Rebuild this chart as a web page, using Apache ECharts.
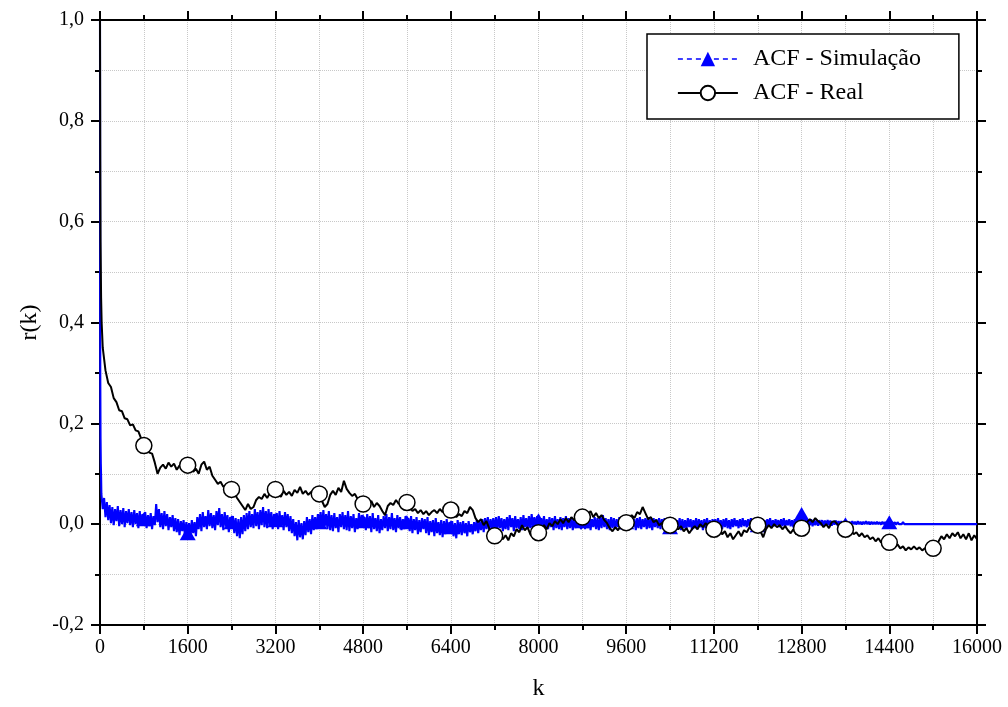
<!DOCTYPE html>
<html>
<head>
<meta charset="utf-8">
<title>ACF</title>
<script src="https://cdn.jsdelivr.net/npm/echarts@6/dist/echarts.min.js"></script>
<style>
  html, body { margin: 0; padding: 0; background: #fff; }
  #chart { width: 1008px; height: 707px; }
</style>
</head>
<body>
<div id="chart"></div>
<script>
const lagMax = 16000;

// Measured trace: small lags, then every 50
const realHeadLags = [0, 5, 10, 20, 30];
const realStep = 50;
// Simulated trace: small lags, then every 25
const simHeadLags = [0, 5, 10, 15, 20];
const simStep = 25;

const stepLags = (head, step) =>
  head.concat(Array.from({ length: lagMax / step }, (_, i) => step * (i + 1)));
const realLags = stepLags(realHeadLags, realStep);
const simLags = stepLags(simHeadLags, simStep);

// r(k) in thousandths, ACF of the measured trace
const realHead = [1000, 720, 560, 450, 400];
const realMilli = [
  // k 50 .. 1600
  350, 305, 280, 272, 250, 242, 226, 224, 210, 208, 196, 198, 186, 184, 170, 156,
  150, 142, 140, 122, 100, 112, 118, 110, 122, 114, 120, 108, 116, 112, 120, 117,
  // k 1650 .. 3200
  112, 104, 110, 100, 118, 124, 108, 114, 96, 88, 80, 84, 74, 78, 72, 69,
  62, 52, 44, 36, 28, 40, 30, 34, 48, 54, 50, 60, 52, 62, 56, 69,
  // k 3250 .. 4800
  62, 54, 66, 58, 64, 56, 68, 62, 74, 60, 66, 58, 64, 52, 58, 60,
  46, 34, 40, 58, 66, 58, 72, 64, 86, 70, 62, 56, 60, 50, 54, 40,
  // k 4850 .. 6400
  46, 38, 46, 34, 42, 36, 26, 18, 36, 42, 38, 48, 40, 44, 38, 43,
  34, 26, 30, 22, 28, 20, 26, 18, 24, 28, 22, 30, 24, 32, 26, 28,
  // k 6450 .. 8000
  20, 14, 20, 16, 26, 22, 34, 28, 12, 4, 10, -2, 6, -8, -18, -23,
  -26, -20, -30, -22, -32, -18, -24, -10, -16, -2, -12, -6, -20, -26, -14, -17,
  // k 8050 .. 9600
  -8, -2, -10, 2, -4, 6, 0, 10, 2, 12, 4, 14, 8, 16, 10, 14,
  8, 18, 26, 14, 22, 12, 18, 8, 2, -8, -14, -6, -12, -2, 6, 3,
  // k 9650 .. 11200
  8, 18, 12, 24, 20, 34, 22, 10, 14, 4, 8, -2, 2, -4, 0, -2,
  4, -4, -10, -4, -14, -8, -18, -10, -4, -10, 0, -6, 2, -4, -8, -10,
  // k 11250 .. 12800
  -14, -8, -20, -14, -26, -18, -30, -22, -14, -24, -12, -16, -6, -10, 0, -2,
  -14, -26, -10, -2, -8, 0, -6, -2, -10, -4, -12, -18, -10, -20, -12, -8,
  // k 12850 .. 14400
  -2, 4, 10, 4, 12, 6, 2, -6, 0, -8, 4, 6, 0, -6, -4, -10,
  -14, -12, -20, -16, -24, -18, -26, -22, -30, -26, -34, -28, -36, -30, -38, -36,
  // k 14450 .. 16000
  -40, -46, -40, -48, -44, -52, -46, -50, -44, -50, -46, -52, -48, -50, -44, -48,
  -42, -34, -24, -30, -20, -28, -18, -24, -16, -28, -20, -30, -18, -32, -22, -30
];

// r(k) in thousandths, ACF of the simulated trace (one row per 800 lags)
const simHead = [1000, 300, 170, 120, 95];
const simMilli = [
  60, 30, 52, 14, 44, 8, 38, 2, 34, -2, 30, 6, 36, -4, 28, 0, 32, -6, 26, 2, 30, -2, 24, -6, 28, 0, 22, -8, 26, -2, 20, 10,
  24, -8, 18, -4, 22, -10, 16, -2, 40, 4, 30, -6, 22, -10, 26, -4, 20, -12, 14, -6, 18, -14, 12, -16, 10, -22, 6, -14, 8, -24, 4, -18,
  2, -26, 8, -18, 4, -24, 14, -10, 20, -14, 24, -6, 16, -10, 28, -4, 22, -8, 18, -12, 26, -2, 32, -6, 20, -12, 24, -4, 18, -16, 14, 4,
  16, -18, 12, -24, 10, -28, 14, -20, 18, -14, 22, -10, 26, -6, 20, -8, 30, -4, 24, -10, 28, -2, 34, -6, 26, -8, 30, -4, 24, -10, 20, 8,
  22, -10, 26, -4, 18, -12, 24, -6, 20, -14, 16, -18, 10, -24, 4, -32, 8, -26, 2, -30, 6, -22, 14, -16, 10, -20, 18, -12, 14, -10, 20, 4,
  24, -8, 28, -4, 20, -10, 26, -12, 18, -14, 22, -8, 14, -16, 20, -6, 24, -10, 18, -12, 26, -14, 16, -8, 20, -16, 12, -10, 22, -6, 18, 6,
  14, -12, 20, -8, 16, -16, 22, -10, 12, -14, 18, -18, 10, -12, 16, -8, 20, -14, 14, -10, 22, -12, 12, -16, 18, -8, 14, -12, 10, -10, 16, 4,
  12, -14, 16, -18, 10, -12, 14, -20, 8, -16, 12, -10, 10, -18, 14, -22, 6, -16, 8, -24, 12, -18, 4, -22, 8, -26, 6, -20, 10, -18, 4, -6,
  6, -24, 2, -28, 8, -20, 4, -22, 6, -18, 2, -24, 6, -16, 0, -20, 4, -14, 8, -18, 6, -12, 10, -16, 12, -10, 14, -14, 10, -8, 12, -10,
  14, -12, 16, -8, 12, -14, 10, -10, 14, -12, 18, -6, 12, -14, 16, -8, 10, -10, 14, -12, 18, -6, 12, -10, 16, -8, 20, -6, 14, -10, 16, 8,
  -10, 12, -8, 16, -12, 10, -10, 14, -6, 12, -12, 16, -8, 10, -10, 14, -12, 12, -6, 16, -10, 12, -8, 14, -12, 10, -8, 16, -6, 12, -10, 6,
  14, -10, 12, -8, 16, -12, 10, -6, 14, -10, 12, -12, 16, -8, 18, -6, 12, -10, 10, -12, 14, -8, 12, -10, 10, -6, 14, -10, 12, -8, 10, 4,
  -8, 12, -10, 14, -6, 10, -12, 12, -8, 14, -10, 10, -6, 12, -10, 14, -8, 10, -12, 12, -6, 10, -8, 12, -10, 10, -6, 12, -8, 10, -10, -6,
  10, -8, 12, -10, 8, -6, 12, -12, 10, -8, 8, -10, 12, -6, 10, -12, 8, -8, 12, -10, 10, -6, 8, -12, 10, -8, 12, -10, 8, -10, 10, -5,
  10, -8, 12, -6, 8, -10, 10, -6, 12, -8, 8, -10, 10, -6, 12, -4, 8, -8, 10, -6, 12, -4, 8, -6, 10, -4, 12, -6, 8, -4, 10, -2,
  10, -6, 12, -4, 8, -6, 10, -4, 12, -6, 8, -4, 10, -2, 8, -6, 10, -4, 12, -6, 8, -2, 10, -4, 8, -6, 10, -4, 12, 2, 10, 20,
  6, -2, 10, -4, 8, -2, 10, -4, 8, -2, 9, -3, 8, -2, 8, -3, 7, -2, 8, -2, 7, -3, 6, -1, 7, -2, 6, -1, 6, -2, 6, 0,
  6, -1, 5, -1, 6, 0, 5, -1, 6, 0, 5, -1, 5, 0, 6, 0, 5, -1, 5, 0, 4, 0, 5, 0, 4, -1, 5, 0, 4, 0, 5, 4,
  0, 4, 0, 4, -1, 4, 0, 3, 0, 4, 0, 3, 0, 3, 0, 3, 0, 3, 0, 3, 0, 2, 0, 3, 0, 2, 0, 2, 0, 2, 0, 2,
  0, 2, 0, 2, 0, 2, 0, 1, 0, 2, 0, 1, 0, 1, 0, 1, 0, 1, 0, 1, 0, 1, 0, 1, 0, 1, 0, 0, 0, 0, 0, 0
];

const seriesNames = ['ACF - Simulação', 'ACF - Real'];
const xTicks = { min: 0, max: 16000, interval: 1600 };
const yTicks = { min: -0.2, max: 1.0, interval: 0.2 };
const markerEvery = 800;
const simMarkerLast = 14400;
const realMarkerLast = 15200;

const toPairs = (lags, head, body) => head.concat(body).map((v, i) => [lags[i], v / 1000]);
const simData = toPairs(simLags, simHead, simMilli);
const realData = toPairs(realLags, realHead, realMilli);

const isMarker = (k, last) => k > 0 && k <= last && k % markerEvery === 0;

const serif = "'Liberation Serif', 'Times New Roman', serif";
const axisBlack = { color: '#000', width: 2 };
const gridDots = { type: 'dotted', color: '#c8c8c8', width: 1 };

function xAxisDef(position, withLabels) {
  return {
    type: 'value',
    position: position,
    min: xTicks.min, max: xTicks.max, interval: xTicks.interval,
    axisLine: { show: true, onZero: false, lineStyle: axisBlack },
    axisTick: { show: true, inside: false, length: 9, lineStyle: axisBlack },
    minorTick: { show: true, splitNumber: 2, length: 5, lineStyle: axisBlack },
    splitLine: { show: withLabels, lineStyle: gridDots },
    minorSplitLine: { show: withLabels, lineStyle: gridDots },
    axisLabel: {
      show: withLabels, color: '#000', fontFamily: serif, fontSize: 20, margin: 13,
      showMaxLabel: true, showMinLabel: true,
      formatter: (v) => String(v)
    },
    name: withLabels ? 'k' : '',
    nameLocation: 'middle',
    nameGap: 52,
    nameTextStyle: { color: '#000', fontFamily: serif, fontSize: 24 }
  };
}

function yAxisDef(position, withLabels) {
  return {
    type: 'value',
    position: position,
    min: yTicks.min, max: yTicks.max, interval: yTicks.interval,
    axisLine: { show: true, onZero: false, lineStyle: axisBlack },
    axisTick: { show: true, inside: false, length: 9, lineStyle: axisBlack },
    minorTick: { show: true, splitNumber: 2, length: 5, lineStyle: axisBlack },
    splitLine: { show: withLabels, lineStyle: gridDots },
    minorSplitLine: { show: withLabels, lineStyle: gridDots },
    axisLabel: {
      show: withLabels, color: '#000', fontFamily: serif, fontSize: 20, margin: 16,
      formatter: (v) => v.toFixed(1).replace('.', ',')
    },
    name: withLabels ? 'r(k)' : '',
    nameLocation: 'middle',
    nameGap: 58,
    nameTextStyle: { color: '#000', fontFamily: serif, fontSize: 24 }
  };
}

const chart = echarts.init(document.getElementById('chart'), null, { renderer: 'canvas' });
chart.setOption({
  animation: false,
  backgroundColor: '#fff',
  grid: { left: 100, right: 31, top: 20, bottom: 82, containLabel: false },
  xAxis: [xAxisDef('bottom', true), xAxisDef('top', false)],
  yAxis: [yAxisDef('left', true), yAxisDef('right', false)],
  legend: {
    orient: 'vertical',
    left: 647, top: 34,
    padding: [13, 38, 14, 30],
    itemWidth: 60, itemHeight: 18, itemGap: 10,
    borderColor: '#000', borderWidth: 1.5, backgroundColor: '#fff',
    textStyle: { color: '#000', fontFamily: serif, fontSize: 24, lineHeight: 18, padding: [0, 0, 0, 10] },
    data: [
      { name: seriesNames[0], lineStyle: { type: [5, 4], width: 1.5 } },
      { name: seriesNames[1], lineStyle: { width: 1.8 } }
    ]
  },
  series: [
    {
      name: seriesNames[0],
      type: 'line',
      xAxisIndex: 0, yAxisIndex: 0,
      data: simData,
      symbol: 'triangle',
      showAllSymbol: true,
      symbolSize: (v) => (isMarker(v[0], simMarkerLast) ? [16, 14] : 0),
      lineStyle: { color: '#0000ff', width: 2.1 },
      itemStyle: { color: '#0000ff', borderWidth: 0 },
      emphasis: { disabled: true },
      z: 2
    },
    {
      name: seriesNames[1],
      type: 'line',
      xAxisIndex: 0, yAxisIndex: 0,
      data: realData,
      symbol: 'circle',
      showAllSymbol: true,
      symbolSize: (v) => (isMarker(v[0], realMarkerLast) ? 16 : 0),
      lineStyle: { color: '#000', width: 2 },
      itemStyle: { color: '#fff', borderColor: '#000', borderWidth: 1.5 },
      emphasis: { disabled: true },
      z: 3
    }
  ]
});
</script>
</body>
</html>
